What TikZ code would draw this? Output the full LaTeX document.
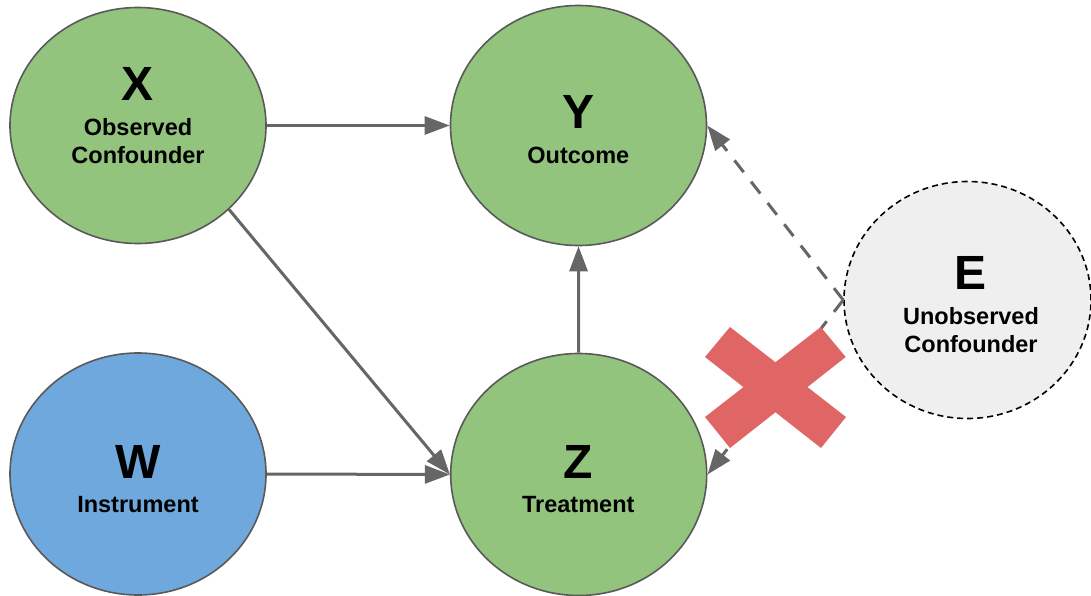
\documentclass[tikz,border=0pt]{standalone}
\usepackage{fontspec}
\setmainfont{Liberation Sans}
\usetikzlibrary{shapes.geometric,arrows.meta}

\definecolor{nodegreen}{HTML}{93C47D}
\definecolor{nodeblue}{HTML}{6FA8DC}
\definecolor{nodelight}{HTML}{EFEFEF}
\definecolor{rimgray}{HTML}{595959}
\definecolor{arrowgray}{HTML}{666666}
\definecolor{crossred}{HTML}{E06666}

\begin{document}
\begin{tikzpicture}[x=1pt,y=-1pt,
  var/.style={ellipse, draw=rimgray, line width=1.6pt, inner sep=0pt},
  latent/.style={ellipse, draw=black, fill=nodelight, line width=1.6pt,
    dash pattern=on 6pt off 4pt, inner sep=0pt},
  bigname/.style={font=\fontsize{48}{48}\selectfont\bfseries, anchor=base, inner sep=0pt},
  role/.style={font=\fontsize{23.5}{23.5}\selectfont\bfseries, anchor=base, inner sep=0pt},
  link/.style={draw=arrowgray, line width=3pt, -{Triangle[length=25pt,width=18pt]}},
  hiddenlink/.style={link, dash pattern=on 15pt off 12pt}]
\useasboundingbox (0,0) rectangle (1091,596);

% variables
\node[var, fill=nodegreen, minimum width=256pt, minimum height=236pt] (X) at (138,125.5) {};
\node[var, fill=nodegreen, minimum width=256pt, minimum height=240pt] (Y) at (578.5,125.5) {};
\node[var, fill=nodeblue,  minimum width=256pt, minimum height=242pt] (W) at (138,474) {};
\node[var, fill=nodegreen, minimum width=256pt, minimum height=242pt] (Z) at (578.7,474.5) {};
\node[latent, minimum width=247pt, minimum height=237pt] (E) at (967.5,300) {};

% labels
\node[bigname] (Xname) at (138,100.7) {X};
\node[role] (Xrole1) at (138,136) {Observed};
\node[role] (Xrole2) at (138,163.3) {Confounder};

\node[bigname] (Yname) at (578.3,128.3) {Y};
\node[role] (Yrole) at (578.3,163.3) {Outcome};

\node[bigname] (Wname) at (138,478.3) {W};
\node[role] (Wrole) at (138,512.7) {Instrument};

\node[bigname] (Zname) at (578.3,478.3) {Z};
\node[role] (Zrole) at (578.3,512.7) {Treatment};

\node[bigname] (Ename) at (970,289.3) {E};
\node[role] (Erole1) at (971,324) {Unobserved};
\node[role] (Erole2) at (971,352) {Confounder};

% causal links
\draw[link] (X.east) -- (Y.west);
\draw[link] (X.south east) -- (Z.west);
\draw[link] (W.east) -- (Z.west);
\draw[link] (Z.north) -- (Y.south);
\draw[hiddenlink] (E.west) -- (Y.east);
\draw[hiddenlink] (E.west) -- (Z.east);

% blocked path marker
\fill[crossred] (730,327) -- (846,417) -- (821,448) -- (705,357) -- cycle;
\fill[crossred] (820.7,327) -- (845.7,357) -- (730,448) -- (705,417) -- cycle;
\end{tikzpicture}
\end{document}
